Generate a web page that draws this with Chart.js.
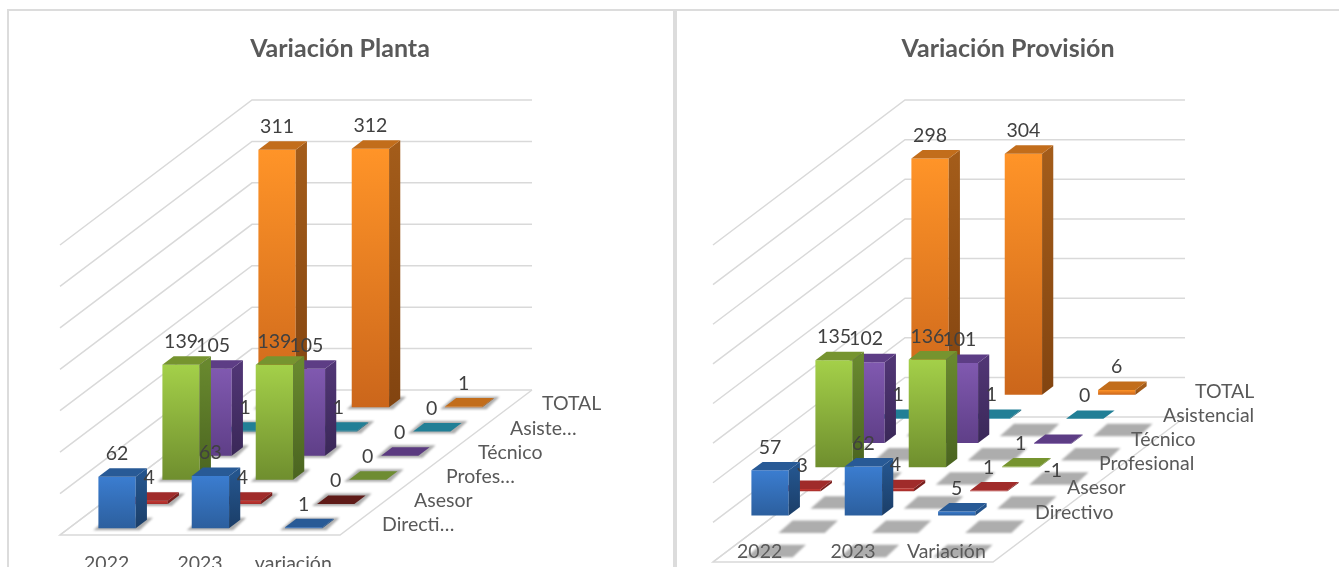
<!DOCTYPE html>
<html>
<head>
<meta charset="utf-8">
<style>
  html, body { margin: 0; padding: 0; background: #fff; overflow: hidden; }
  body { width: 1339px; height: 567px; position: relative; }
  .line { position: absolute; background: #dcdcdc; }
  canvas { position: absolute; top: 11px; }
  .title { position: absolute; top: 30px; height: 34px; text-align: center;
           font: bold 25px/34px Lato, 'Open Sans', sans-serif; color: #595959; }
</style>
<script src="https://cdn.jsdelivr.net/npm/chart.js@4"></script>
</head>
<body>
<div class="line" style="left:7px;top:9px;width:1332px;height:2px"></div>
<div class="line" style="left:7px;top:9px;width:2px;height:558px"></div>
<div class="line" style="left:673px;top:9px;width:4px;height:558px"></div>
<canvas id="planta" width="664" height="556" style="left:9px"></canvas>
<canvas id="provision" width="662" height="556" style="left:677px"></canvas>
<div class="title" style="left:9px;width:662px">Variación Planta</div>
<div class="title" style="left:677px;width:662px">Variación Provisión</div>
<script>
const plantaCategories = ["2022", "2023", "variación"];
const plantaSeries = ["Directi…", "Asesor", "Profes…", "Técnico", "Asiste…", "TOTAL"];
const plantaDirectivo = [62, 63, 1];
const plantaAsesor = [4, 4, 0];
const plantaProfesional = [139, 139, 0];
const plantaTecnico = [105, 105, 0];
const plantaAsistencial = [1, 1, 0];
const plantaTotal = [311, 312, 1];

const provisionCategories = ["2022", "2023", "Variación"];
const provisionSeries = ["Directivo", "Asesor", "Profesional", "Técnico", "Asistencial", "TOTAL"];
const provisionDirectivo = [57, 62, 5];
const provisionAsesor = [3, 4, 1];
const provisionProfesional = [135, 136, 1];
const provisionTecnico = [102, 101, -1];
const provisionAsistencial = [1, 1, 0];
const provisionTotal = [298, 304, 6];

// front top, front bottom, side top, side bottom, top face, top face when value is 0
const palette = [
  ["#3b7dd0", "#2c5f9e", "#24548c", "#1b3e68", "#285a96", "#285a96"],
  ["#c63a34", "#a32c2a", "#7a1f1d", "#6a1a18", "#a02b2a", "#5f1b18"],
  ["#a4d049", "#6f8e2e", "#68882e", "#4a6420", "#76942f", "#6e8c32"],
  ["#8059b0", "#5f3f88", "#503574", "#3a2858", "#5d3d85", "#5b3a80"],
  ["#2f9ab5", "#247e95", "#1c6478", "#175566", "#217f96", "#217f96"],
  ["#ff9428", "#cb661b", "#a35c1a", "#824410", "#c26d1b", "#b5631c"],
];

const FONT = "Lato, 'Open Sans', sans-serif";
const depthX = 192, depthY = 145;   // how far the floor runs back
const boxDepth = 0.35;              // bar depth as part of a series row

function quad(ctx, pts, fill) {
  ctx.beginPath();
  ctx.moveTo(pts[0][0], pts[0][1]);
  pts.slice(1).forEach((p) => ctx.lineTo(p[0], p[1]));
  ctx.closePath();
  ctx.fillStyle = fill;
  ctx.fill();
}

function gradient(ctx, y0, y1, c0, c1) {
  const g = ctx.createLinearGradient(0, y0, 0, Math.max(y1, y0 + 1));
  g.addColorStop(0, c0);
  g.addColorStop(1, c1);
  return g;
}

const box3d = {
  id: "box3d",
  // walls, floor and the shadows
  beforeDatasetsDraw(chart) {
    const { ctx, scales: { x, y } } = chart;
    ctx.save();
    ctx.strokeStyle = "#d9d9d9";
    ctx.lineWidth = 1.5;
    y.ticks.forEach((t) => {
      const py = y.getPixelForValue(t.value);
      ctx.beginPath();
      ctx.moveTo(x.left, py);
      ctx.lineTo(x.left + depthX, py - depthY);
      ctx.lineTo(x.right + depthX, py - depthY);
      ctx.stroke();
    });
    ctx.beginPath();
    ctx.moveTo(x.left + depthX, y.bottom - depthY);
    ctx.lineTo(x.left, y.bottom);
    ctx.lineTo(x.right, y.bottom);
    ctx.lineTo(x.right + depthX, y.bottom - depthY);
    ctx.stroke();

    const n = chart.data.datasets.length;
    const cellX = depthX / n, cellY = depthY / n;
    const dx = cellX * boxDepth, dy = cellY * boxDepth;
    ctx.filter = "blur(1px)";
    for (let s = n - 1; s >= 0; s--) {
      chart.getDatasetMeta(s).data.forEach((bar) => {
        const left = bar.x + (s + 0.5) * cellX - bar.width / 2 - dx / 2;
        const front = y.bottom - (s + 0.5) * cellY + dy / 2 + 1;
        const right = left + bar.width;
        quad(ctx, [
          [left - 5, front + 2],
          [right + 4, front + 2],
          [right + dx + 6, front - dy - 2],
          [left + dx - 2, front - dy - 2],
        ], "#adadad");
      });
    }
    ctx.restore();
  },
  // each bar is drawn as a box from the element the bar controller placed
  beforeDatasetDraw(chart, args) {
    const { ctx } = chart;
    const s = args.index;
    const n = chart.data.datasets.length;
    const cellX = depthX / n, cellY = depthY / n;
    const dx = cellX * boxDepth, dy = cellY * boxDepth;
    const pal = palette[s];
    ctx.save();
    args.meta.data.forEach((bar, i) => {
      const shiftX = (s + 0.5) * cellX - dx / 2;
      const shiftY = (s + 0.5) * cellY - dy / 2 - 1;
      const left = bar.x - bar.width / 2 + shiftX;
      const right = left + bar.width;
      const top = Math.min(bar.y, bar.base) - shiftY;
      const bottom = Math.max(bar.y, bar.base) - shiftY;
      const value = chart.data.datasets[s].data[i];
      if (bottom - top > 0.5) {
        quad(ctx, [[left, top], [right, top], [right, bottom], [left, bottom]],
          gradient(ctx, top, bottom, pal[0], pal[1]));
        quad(ctx, [[right, top], [right + dx, top - dy], [right + dx, bottom - dy], [right, bottom]],
          gradient(ctx, top, bottom, pal[2], pal[3]));
      }
      quad(ctx, [[left, top], [right, top], [right + dx, top - dy], [left + dx, top - dy]],
        value === 0 ? pal[5] : pal[4]);
    });
    ctx.restore();
    return false;
  },
  // value labels and the two label rows
  afterDatasetsDraw(chart) {
    const { ctx, scales: { x, y } } = chart;
    const n = chart.data.datasets.length;
    const cellX = depthX / n, cellY = depthY / n;
    const dx = cellX * boxDepth, dy = cellY * boxDepth;
    const zero = y.getPixelForValue(0);
    ctx.save();
    ctx.textBaseline = "middle";
    ctx.textAlign = "center";
    ctx.font = "19.5px " + FONT;
    ctx.fillStyle = "#404040";
    chart.data.datasets.forEach((ds, s) => {
      chart.getDatasetMeta(s).data.forEach((bar, i) => {
        const cx = bar.x + (s + 0.5) * cellX - dx / 2;
        const shiftY = (s + 0.5) * cellY - dy / 2 - 1;
        const ly = ds.data[i] < 0 ? bar.y - shiftY + 27 : bar.y - shiftY - 23;
        ctx.fillText(String(ds.data[i]), cx, ly);
      });
    });
    ctx.fillStyle = "#595959";
    chart.data.labels.forEach((label, i) => {
      ctx.fillText(label, x.getPixelForValue(i), zero + 29);
    });
    ctx.textAlign = "left";
    chart.data.datasets.forEach((ds, s) => {
      ctx.fillText(ds.label, x.right + (s + 0.5) * cellX + 26, zero - (s + 0.5) * cellY + 2);
    });
    ctx.restore();
  },
};

function makeChart(id, categories, names, values, minY, pad) {
  return new Chart(document.getElementById(id), {
    type: "bar",
    data: {
      labels: categories,
      datasets: names.map((name, s) => ({
        label: name,
        data: values[s],
        grouped: false,
        categoryPercentage: 1,
        barPercentage: 0.4,
      })),
    },
    options: {
      responsive: false,
      animation: false,
      layout: { padding: pad },
      plugins: {
        legend: { display: false },
        tooltip: { enabled: false },
      },
      scales: {
        x: { display: false },
        y: { display: false, min: minY, max: 350, ticks: { stepSize: 50 } },
      },
    },
    plugins: [box3d],
  });
}

makeChart("planta", plantaCategories, plantaSeries,
  [plantaDirectivo, plantaAsesor, plantaProfesional, plantaTecnico, plantaAsistencial, plantaTotal],
  0, { left: 51, right: 333, top: 234, bottom: 32 });

makeChart("provision", provisionCategories, provisionSeries,
  [provisionDirectivo, provisionAsesor, provisionProfesional, provisionTecnico, provisionAsistencial, provisionTotal],
  -50, { left: 36, right: 346, top: 234, bottom: 5 });
</script>
</body>
</html>
